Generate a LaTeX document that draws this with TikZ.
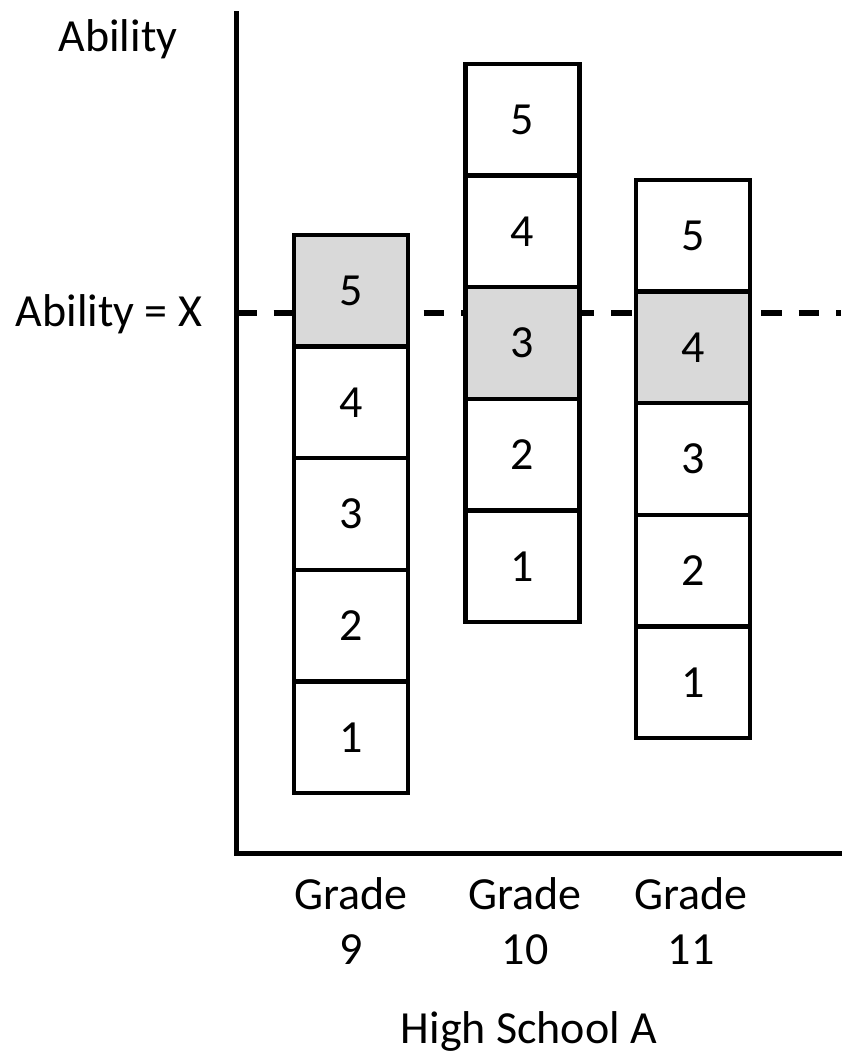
\documentclass[tikz,border=0pt]{standalone}
\usepackage{fontspec}
\setmainfont{Carlito}
\begin{document}
\begin{tikzpicture}[x=0.5pt,y=-0.5pt,
  lbl/.style={font=\fontsize{23}{27.5}\selectfont, inner sep=0pt, anchor=base, align=center},
  cell/.style={draw=black, line width=2.2pt, fill=white, minimum width=57pt,
               minimum height=55.8pt, inner sep=0pt, outer sep=0pt,
               font=\fontsize{23}{27.5}\selectfont},
  hit/.style={cell, fill=black!15},
  axis/.style={line width=2.5pt, line cap=rect},
  level/.style={line width=2.8pt, dash pattern=on 10.25pt off 8.5pt}]
  \useasboundingbox (0,0) rectangle (841,1053);

  % axes
  \coordinate (top) at (236,14);
  \coordinate (origin) at (236,853);
  \coordinate (xend) at (841,853);
  \draw[axis] (top) -- (origin) -- (xend);

  % reference level
  \coordinate (lvlL) at (236,313);
  \coordinate (lvlR) at (841,313);
  \draw[level] (lvlL) -- (lvlR);

  % Grade 9 column
  \node[hit]  (a5) at (351,290.8) {5};
  \node[cell, anchor=north] (a4) at (a5.south) {4};
  \node[cell, anchor=north] (a3) at (a4.south) {3};
  \node[cell, anchor=north] (a2) at (a3.south) {2};
  \node[cell, anchor=north] (a1) at (a2.south) {1};

  % Grade 10 column
  \node[cell] (b5) at (522.5,119.8) {5};
  \node[cell, anchor=north] (b4) at (b5.south) {4};
  \node[hit,  anchor=north] (b3) at (b4.south) {3};
  \node[cell, anchor=north] (b2) at (b3.south) {2};
  \node[cell, anchor=north] (b1) at (b2.south) {1};

  % Grade 11 column
  \node[cell] (c5) at (693,235.8) {5};
  \node[hit,  anchor=north] (c4) at (c5.south) {4};
  \node[cell, anchor=north] (c3) at (c4.south) {3};
  \node[cell, anchor=north] (c2) at (c3.south) {2};
  \node[cell, anchor=north] (c1) at (c2.south) {1};

  % labels
  \node[lbl] (ylab) at (118,52) {Ability};
  \node[lbl] (xlab) at (109,327) {Ability = X};
  \node[lbl] (g9)  at (351,964) {Grade\\9};
  \node[lbl] (g10) at (525,964) {Grade\\10};
  \node[lbl] (g11) at (691,964) {Grade\\11};
  \node[lbl] (school) at (529,1043) {High School A};
\end{tikzpicture}
\end{document}
